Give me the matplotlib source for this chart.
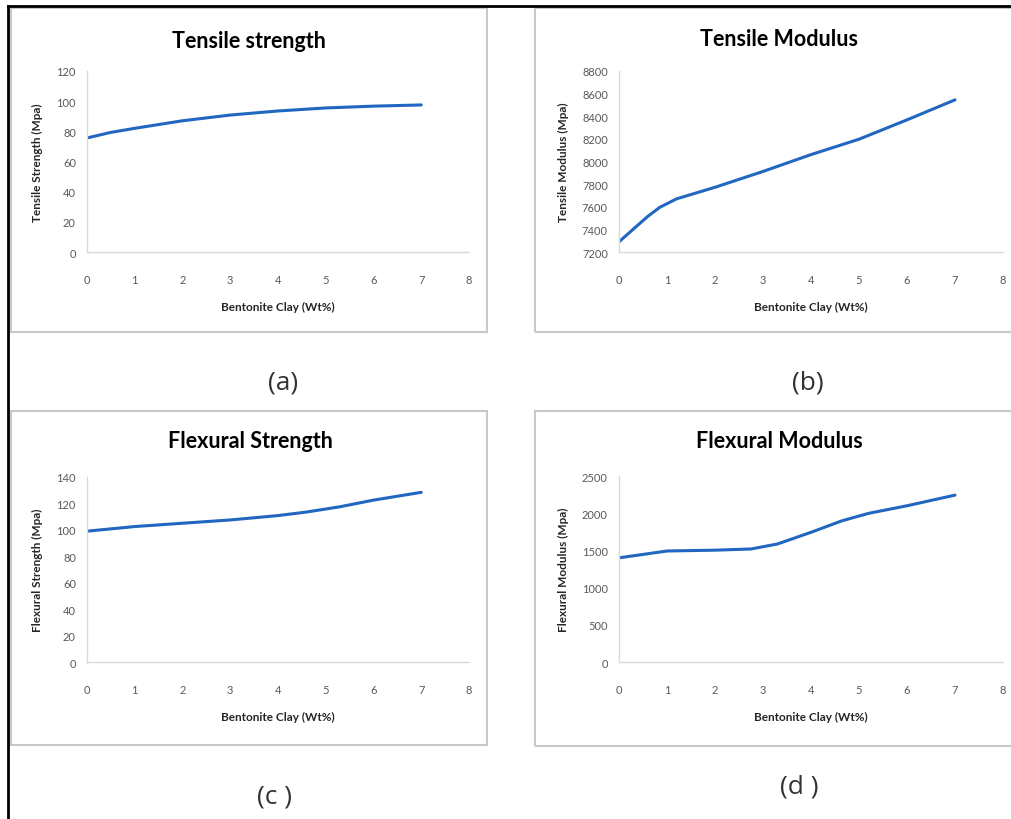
import matplotlib
matplotlib.use("Agg")
import matplotlib.pyplot as plt
from matplotlib.patches import Rectangle
from matplotlib.lines import Line2D

plt.rcParams['font.family'] = ['Lato', 'DejaVu Sans']

# Bentonite clay loading (wt%) and values
ts_clay = [0, 0.5, 1, 2, 3, 4, 5, 6, 7]
tensile_strength = [75.6, 79.3, 82.0, 87.0, 90.8, 93.5, 95.5, 96.7, 97.5]

tm_clay = [0, 0.3, 0.6, 0.85, 1.2, 2, 3, 4, 5, 6, 7]
tensile_modulus = [7290, 7403, 7515, 7595, 7670, 7772, 7912, 8061, 8197, 8368, 8545]

fs_clay = [0, 1, 2, 3, 4, 4.6, 5.3, 6, 7]
flexural_strength = [99.0, 102.5, 105.0, 107.5, 110.8, 113.5, 117.5, 122.5, 128.4]

fm_clay = [0, 1, 2, 2.75, 3.3, 4, 4.65, 5.2, 6, 7]
flexural_modulus = [1400, 1492, 1503, 1519, 1586, 1743, 1899, 1998, 2100, 2243]

W, H = 1012, 820
LINE_COLOR = '#2166c0'

fig = plt.figure(figsize=(W / 100, H / 100), dpi=100)


def px_rect(x0, y0, x1, y1):
    # pixel box (top-left origin) -> figure fraction [l, b, w, h]
    return [x0 / W, 1 - y1 / H, (x1 - x0) / W, (y1 - y0) / H]


def fx(x):
    return x / W


def fy(y):
    return 1 - y / H


# outer black frame (top and left edges)
fig.add_artist(Line2D([fx(8), fx(1012)], [fy(7), fy(7)], color='black', lw=2))
fig.add_artist(Line2D([fx(8), fx(8)], [fy(7), fy(820)], color='black', lw=2))

panels = [
    dict(box=(11, 9, 487, 333), ax=(87, 72, 469, 253), x=ts_clay, y=tensile_strength,
         ylim=(0, 120), yticks=range(0, 121, 20), title='Tensile strength',
         ylabel='Tensile Strength (Mpa)', tpos=(249, 42), ylpos=37,
         sub='(a)', spos=(283, 383)),
    dict(box=(535, 9, 1030, 333), ax=(619, 72, 1003, 253), x=tm_clay, y=tensile_modulus,
         ylim=(7200, 8800), yticks=range(7200, 8801, 200), title='Tensile Modulus',
         ylabel='Tensile Modulus (Mpa)', tpos=(779, 39), ylpos=563,
         sub='(b)', spos=(808, 383)),
    dict(box=(11, 412, 487, 746), ax=(87, 478, 469, 663), x=fs_clay, y=flexural_strength,
         ylim=(0, 140), yticks=range(0, 141, 20), title='Flexural Strength',
         ylabel='Flexural Strength (Mpa)', tpos=(250, 442), ylpos=37,
         sub='(c )', spos=(275, 797)),
    dict(box=(535, 412, 1030, 747), ax=(619, 477, 1003, 663), x=fm_clay, y=flexural_modulus,
         ylim=(0, 2500), yticks=range(0, 2501, 500), title='Flexural Modulus',
         ylabel='Flexural Modulus (Mpa)', tpos=(779, 442), ylpos=563,
         sub='(d )', spos=(799, 787)),
]

for p in panels:
    bx0, by0, bx1, by1 = p['box']
    fig.add_artist(Rectangle((fx(bx0), fy(by1)), (bx1 - bx0) / W, (by1 - by0) / H,
                             transform=fig.transFigure, fill=False,
                             edgecolor='#c8c8c8', lw=1.5))

    ax = fig.add_axes(px_rect(*p['ax']))
    ax.plot(p['x'], p['y'], color=LINE_COLOR, lw=2.2, solid_capstyle='round',
            solid_joinstyle='round')
    ax.set_xlim(0, 8)
    ax.set_ylim(*p['ylim'])
    ax.set_xticks(range(0, 9))
    ax.set_yticks(list(p['yticks']))
    for side in ['top', 'right']:
        ax.spines[side].set_visible(False)
    for side in ['left', 'bottom']:
        ax.spines[side].set_color('#d9d9d9')
        ax.spines[side].set_linewidth(1)
    ax.tick_params(length=0, labelsize=8, colors='#595959')
    ax.tick_params(axis='x', pad=16)
    ax.tick_params(axis='y', pad=8)
    ax.set_facecolor('none')

    axc = (p['ax'][0] + p['ax'][2]) / 2
    ayc = (p['ax'][1] + p['ax'][3]) / 2
    fig.text(fx(axc), fy(p['ax'][3] + 54), 'Bentonite Clay (Wt%)', ha='center',
             va='center', fontsize=8.5, fontweight='bold', color='#262626')
    fig.text(fx(p['ylpos']), fy(ayc), p['ylabel'], rotation=90, ha='center',
             va='center', fontsize=8.5, fontweight='bold', color='#262626')
    fig.text(fx(p['tpos'][0]), fy(p['tpos'][1]), p['title'], ha='center',
             va='center', fontsize=15.5, fontweight='bold', color='black')
    fig.text(fx(p['spos'][0]), fy(p['spos'][1]), p['sub'], ha='center',
             va='center', fontsize=19, color='#333333', family='Open Sans')

fig.savefig('out.png', dpi=100)
